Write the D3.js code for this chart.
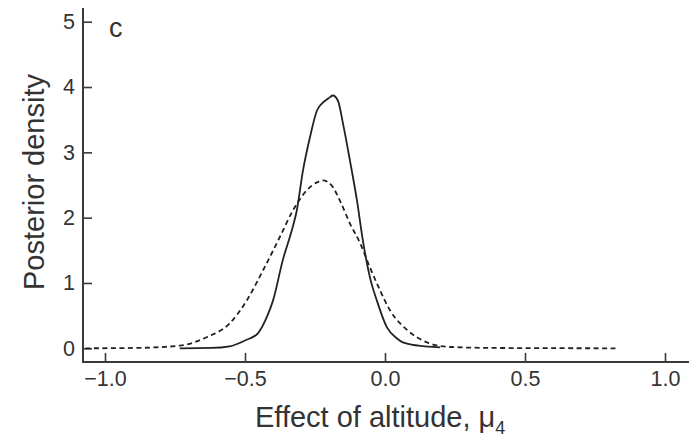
<!DOCTYPE html>
<html>
<head>
<meta charset="utf-8">
<script src="https://d3js.org/d3.v7.min.js"></script>
<style>
	body { margin: 0; background: #fff; }
	svg { display: block; font-family: "Liberation Sans", Arial, sans-serif; }
	.tick-label { font-size: 21.5px; fill: #333; }
	.axis-title { font-size: 29px; fill: #333; }
</style>
</head>
<body>
<div id="chart"></div>
<script>

//Solid curve: posterior of mu_4
var solidX = [-0.733, -0.62, -0.555, -0.50, -0.454, -0.42, -0.40, -0.365, -0.33, -0.315, -0.293, -0.268, -0.243, -0.222, -0.204, -0.186, -0.168, -0.150, -0.125, -0.10, -0.079, -0.054, -0.029, 0.007, 0.043, 0.064, 0.12, 0.197];
var solidY = [0, 0.005, 0.03, 0.12, 0.23, 0.5, 0.73, 1.35, 1.85, 2.11, 2.72, 3.23, 3.64, 3.76, 3.82, 3.87, 3.79, 3.44, 2.87, 2.26, 1.65, 1.09, 0.73, 0.32, 0.15, 0.09, 0.04, 0.015];

//Dashed curve
var dashedX = [-1.07, -0.9, -0.733, -0.637, -0.555, -0.494, -0.436, -0.376, -0.329, -0.279, -0.243, -0.222, -0.19, -0.161, -0.125, -0.089, -0.054, -0.018, 0.018, 0.054, 0.079, 0.15, 0.233, 0.4, 0.823];
var dashedY = [0, 0.005, 0.04, 0.17, 0.38, 0.73, 1.19, 1.70, 2.11, 2.42, 2.54, 2.57, 2.49, 2.26, 1.91, 1.61, 1.24, 0.89, 0.58, 0.38, 0.28, 0.09, 0.02, 0.005, 0];

var xTicks = [-1.0, -0.5, 0.0, 0.5, 1.0];
var yTicks = [0, 1, 2, 3, 4, 5];

var panelLabel = "c",
	yTitle = "Posterior density",
	xTitle = "Effect of altitude, ",
	xTitleSymbol = "\u03BC",
	xTitleSub = "4";

var width = 689,
	height = 439,
	axisLeftX = 83,	//position of the y axis line
	axisBottomY = 362,	//position of the x axis line
	axisTop = 8;

var svg = d3.select("#chart").append("svg")
	.attr("width", width)
	.attr("height", height);

var x = d3.scaleLinear().domain([-1, 1]).range([105, 665]);
var y = d3.scaleLinear().domain([0, 5]).range([348.3, 21.7]);

/////////////////////// Axes //////////////////////////

var xAxis = svg.append("g")
	.attr("class", "x-axis")
	.attr("transform", "translate(0," + axisBottomY + ")")
	.call(d3.axisBottom(x).tickValues(xTicks).tickSizeInner(-9).tickSizeOuter(0).tickPadding(9)
		.tickFormat(function(d) { return d3.format(".1f")(d).replace("-", "\u2212"); }));

var yAxis = svg.append("g")
	.attr("class", "y-axis")
	.attr("transform", "translate(" + axisLeftX + ",0)")
	.call(d3.axisLeft(y).tickValues(yTicks).tickSizeInner(-9).tickSizeOuter(0).tickPadding(8)
		.tickFormat(d3.format("d")));

//Replace the default domain lines by longer ones
svg.selectAll(".domain").remove();
svg.selectAll(".tick line")
	.style("stroke", "#3a3a3a")
	.style("stroke-width", 1.6);
svg.selectAll(".tick text")
	.attr("class", "tick-label");
svg.selectAll(".x-axis, .y-axis").attr("font-size", null).attr("font-family", null);

svg.append("line")
	.attr("x1", axisLeftX)
	.attr("x2", width)
	.attr("y1", axisBottomY)
	.attr("y2", axisBottomY)
	.style("stroke", "#3a3a3a")
	.style("stroke-width", 2);

svg.append("line")
	.attr("x1", axisLeftX)
	.attr("x2", axisLeftX)
	.attr("y1", axisTop)
	.attr("y2", axisBottomY + 1)
	.style("stroke", "#3a3a3a")
	.style("stroke-width", 2);

/////////////////////// Curves //////////////////////////

var line = d3.line()
	.x(function(d) { return x(d[0]); })
	.y(function(d) { return y(d[1]); })
	.curve(d3.curveMonotoneX);

var dashedData = d3.zip(dashedX, dashedY),
	solidData = d3.zip(solidX, solidY);

svg.append("path")
	.datum(dashedData)
	.attr("d", line)
	.style("fill", "none")
	.style("stroke", "#222")
	.style("stroke-width", 1.8)
	.style("stroke-dasharray", "5,3.5");

svg.append("path")
	.datum(solidData)
	.attr("d", line)
	.style("fill", "none")
	.style("stroke", "#222")
	.style("stroke-width", 1.8);

/////////////////////// Titles //////////////////////////

svg.append("text")
	.attr("x", 109)
	.attr("y", 37)
	.style("font-size", "27px")
	.style("fill", "#333")
	.text(panelLabel);

svg.append("text")
	.attr("class", "axis-title")
	.attr("transform", "translate(44," + 182 + ") rotate(-90)")
	.style("text-anchor", "middle")
	.text(yTitle);

var xTitleText = svg.append("text")
	.attr("class", "axis-title")
	.attr("x", 255)
	.attr("y", 427);
xTitleText.append("tspan").text(xTitle);
xTitleText.append("tspan").text(xTitleSymbol);
xTitleText.append("tspan")
	.attr("dy", 7)
	.style("font-size", "18px")
	.text(xTitleSub);

</script>
</body>
</html>
